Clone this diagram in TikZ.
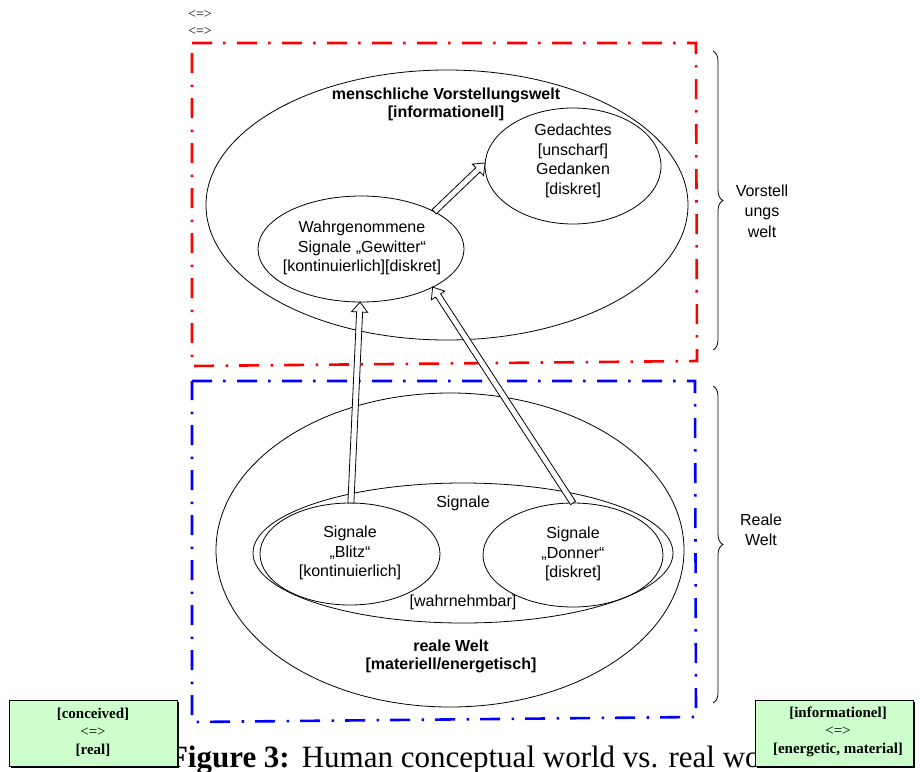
\documentclass[tikz,border=0pt]{standalone}
\usepackage{fontspec}
\setmainfont{Liberation Serif}
\newfontfamily\arialf{Liberation Sans}
\usetikzlibrary{shapes.geometric,calc,decorations.pathreplacing,shadows}
\definecolor{boxgreen}{RGB}{204,255,204}
\newcommand\harrow[2]{%
  \coordinate (hb) at ($(#2)!10pt!(#1)$);
  \draw[harr] ($(#1)!3pt!90:(#2)$) -- ($(hb)!3pt!-90:(#1)$) -- ($(hb)!8pt!-90:(#1)$) -- (#2) -- ($(hb)!8pt!90:(#1)$) -- ($(hb)!3pt!90:(#1)$) -- ($(#1)!3pt!-90:(#2)$) -- cycle;}
\begin{document}
\begin{tikzpicture}[x=1pt,y=-1pt,
  every node/.style={inner sep=0pt,outer sep=0pt},
  txt/.style={font=\arialf\fontsize{16}{19.6}\selectfont,align=center},
  btxt/.style={font=\arialf\bfseries\fontsize{16}{18}\selectfont,align=center},
  sidetxt/.style={font=\arialf\fontsize{16}{20.5}\selectfont,align=center},
  oval/.style={ellipse,draw,line width=0.8pt},
  harr/.style={draw=black,fill=white,line width=0.8pt,line join=miter},
  worldbox/.style={line width=2.6pt,dash pattern=on 20pt off 11pt on 2.5pt off 11.5pt},
  curly/.style={decorate,decoration={brace,amplitude=10pt},line width=0.8pt},
  gbox/.style={draw=black,fill=boxgreen,line width=0.8pt,
    drop shadow={shadow xshift=2pt,shadow yshift=-2pt,opacity=1,fill=black}},
  gtxt/.style={font=\fontsize{15}{18}\selectfont,align=center},
  small/.style={font=\fontsize{14}{16}\selectfont}
]
\useasboundingbox (0,0) rectangle (920,771);

% top marks
\node[small] (m1) at (200,14) {<=>};
\node[small] (m2) at (200,31) {<=>};

% world frames
\draw[worldbox,red] (192,43) -- (696,43) -- (697,361) -- (192,366) -- cycle;
\draw[worldbox,blue] (192,381) -- (695,381) -- (696,717) -- (192,722) -- cycle;

% upper world
\node[oval,minimum width=482pt,minimum height=270pt] (upper) at (447,205) {};
\node[btxt] (uppert) at (446,104) {menschliche Vorstellungswelt\\{}[informationell]};
\node[oval,minimum width=176pt,minimum height=116pt] (ged) at (573,166) {};
\node[txt] (gedt) at (573,161) {Gedachtes\\{}[unscharf]\\Gedanken\\{}[diskret]};
\node[oval,minimum width=206pt,minimum height=106pt] (wahr) at (361,249) {};
\node[txt] (wahrt) at (362,248) {Wahrgenommene\\Signale „Gewitter“\\{}[kontinuierlich][diskret]};

% lower world
\node[oval,minimum width=468pt,minimum height=314pt] (lower) at (450,550) {};
\node[btxt] (lowert) at (451,656) {reale Welt\\{}[materiell/energetisch]};
\node[oval,minimum width=420pt,minimum height=140pt] (sig) at (463,553) {};
\node[txt] (sigt) at (463,503) {Signale};
\node[txt] (wahrnt) at (463,602) {[wahrnehmbar]};
\node[oval,minimum width=180pt,minimum height=102pt] (blitz) at (350,554) {};
\node[txt] (blitzt) at (350,553) {Signale\\„Blitz“\\{}[kontinuierlich]};
\node[oval,minimum width=180pt,minimum height=104pt] (donner) at (573,555) {};
\node[txt] (donnert) at (573,554) {Signale\\„Donner“\\{}[diskret]};

% arrows
\harrow{wahr.27}{ged.178}
\harrow{blitz.89}{wahr.269}
\harrow{donner.90}{wahr.-28}

% braces
\coordinate (b1s) at (713,51);
\coordinate (b1e) at (713,350);
\draw[curly] (b1s) -- (b1e);
\node[sidetxt] (b1t) at (762,211) {Vorstell\\ungs\\welt};
\coordinate (b2s) at (713,386);
\coordinate (b2e) at (713,703);
\draw[curly] (b2s) -- (b2e);
\node[sidetxt] (b2t) at (761,530) {Reale\\Welt};

% caption
\node[anchor=base west,font=\fontsize{31}{36}\selectfont] (cap) at (169,767) {\textbf{Figure 3:}\hspace{12pt}Human conceptual world vs. real world};

% green boxes
\node[gbox,minimum width=168pt,minimum height=66pt] (lbox) at (93,733) {};
\node[gtxt] (lboxt) at (93,732) {\textbf{[conceived]}\\<=>\\\textbf{[real]}};
\node[gbox,minimum width=158pt,minimum height=66pt] (rbox) at (834,733) {};
\node[gtxt] (rboxt) at (838,732) {\textbf{[informationel]}\\<=>\\\textbf{[energetic, material]}};
\end{tikzpicture}
\end{document}
